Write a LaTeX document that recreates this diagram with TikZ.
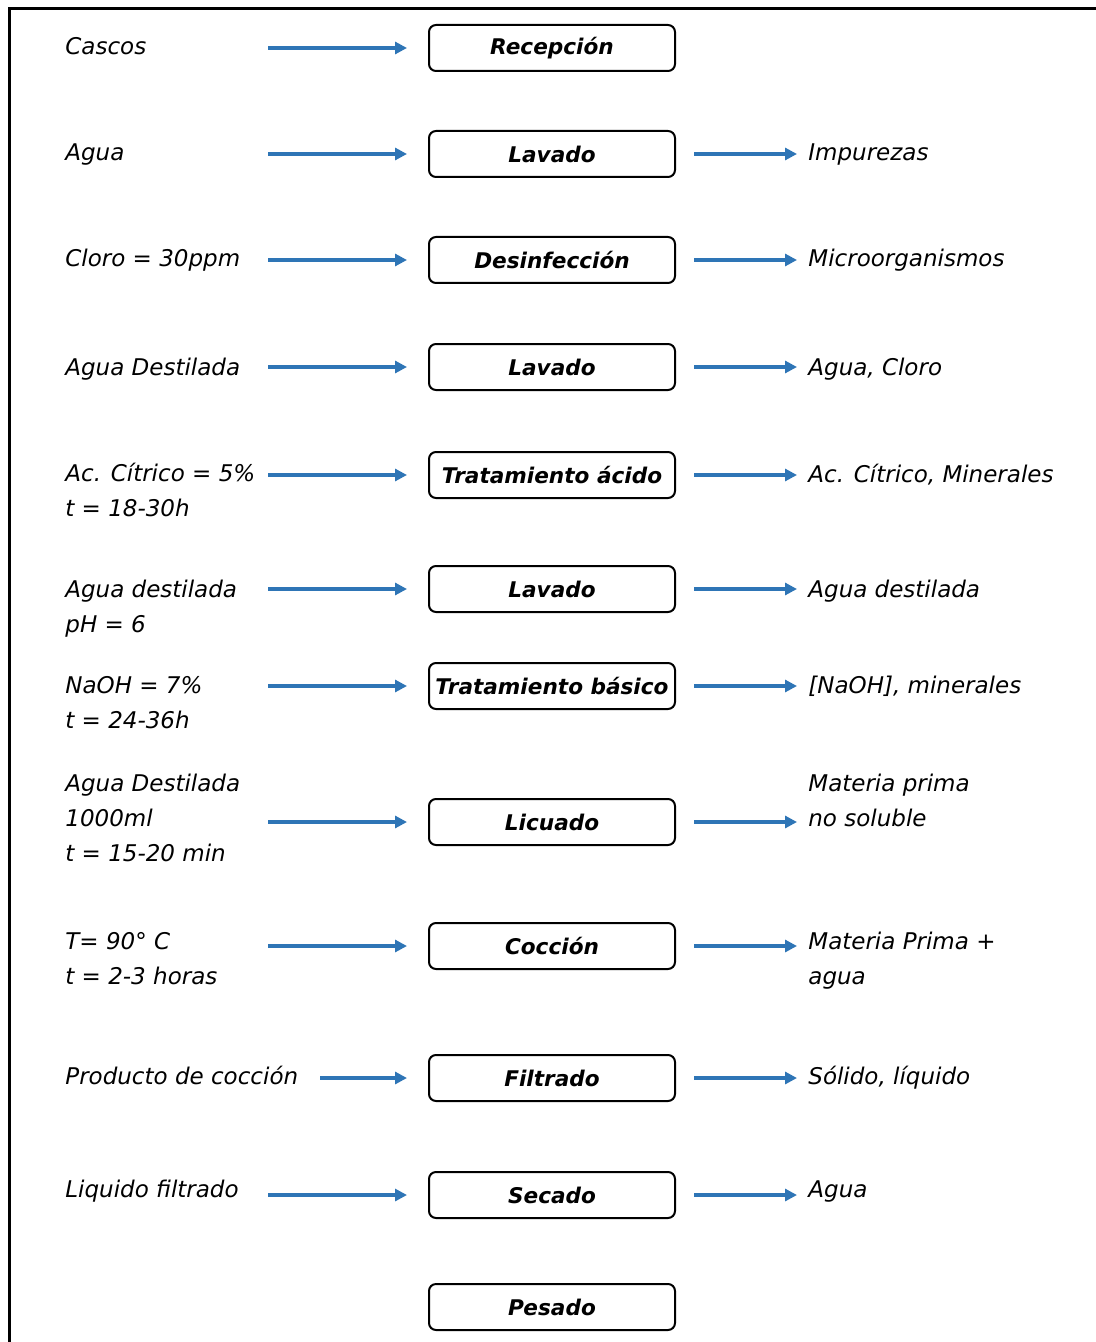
\documentclass[tikz,border=0pt]{standalone}
\usepackage{fontspec}
\setmainfont{DejaVu Sans}
\usetikzlibrary{arrows.meta}
\definecolor{flowblue}{HTML}{2E75B6}
\tikzset{
  proc/.style={draw, line width=1pt, rounded corners=3.5pt, minimum width=123pt,
    minimum height=23pt, inner sep=0pt, font=\bfseries\itshape\fontsize{10.8}{12}\selectfont},
  flow/.style={flowblue, line width=1.8pt, -{Triangle[length=6pt,width=6pt]}},
  lbl/.style={anchor=north west, inner sep=0pt, align=left,
    font=\itshape\fontsize{11.5}{17.5}\selectfont},
}
\begin{document}
\begin{tikzpicture}[x=0.5pt,y=-0.5pt]
  \useasboundingbox (0,0) rectangle (1096,1342);
  % frame
  \draw[line width=1.5pt] (9,1342) -- (9,9) -- (1096,9);

  % process steps
  \foreach \n/\y/\txt in {1/48/Recepción, 2/154/Lavado, 3/260/Desinfección, 4/367/Lavado,
      5/475/Tratamiento ácido, 6/589/Lavado, 7/686/Tratamiento básico, 8/822/Licuado,
      9/946/Cocción, 10/1078/Filtrado, 11/1195/Secado, 12/1307/Pesado}
    \node[proc] (p\n) at (552,\y) {\txt};

  % inputs
  \foreach \n/\y/\txt in {1/47/Cascos, 2/153/Agua, 3/259/Cloro = 30ppm, 4/368/Agua Destilada,
      5/473/Ac. Cítrico = 5\%\\t = 18-30h, 6/590/Agua destilada\\pH = 6,
      7/686/NaOH = 7\%\\t = 24-36h, 8/784/Agua Destilada\\1000ml\\t = 15-20 min,
      9/942/T= 90° C\\t = 2-3 horas, 10/1076/Producto de cocción, 11/1190/Liquido filtrado}
    \node[lbl] (in\n) at (65,\y-10) {\txt};

  % input arrows
  \foreach \n/\x in {1/268, 2/268, 3/268, 4/268, 5/268, 6/268, 7/268, 8/268, 9/268, 10/320, 11/268} {
    \coordinate (s\n) at (\x,0 |- p\n.west);
    \draw[flow, shorten >=10.5pt] (s\n) -- (p\n.west);
  }

  % outputs
  \foreach \n/\y/\txt in {2/153/Impurezas, 3/259/Microorganismos, 4/368/{Agua, Cloro},
      5/474/{Ac. Cítrico, Minerales}, 6/590/Agua destilada, 7/686/{[NaOH], minerales},
      8/784/Materia prima\\no soluble, 9/942/Materia Prima +\\agua,
      10/1076/{Sólido, líquido}, 11/1190/Agua}
    \node[lbl] (out\n) at (808,\y-10) {\txt};

  % output arrows
  \foreach \n in {2,...,11} {
    \coordinate (e\n) at (797,0 |- p\n.east);
    \draw[flow, shorten <=9pt] (p\n.east) -- (e\n);
  }
\end{tikzpicture}
\end{document}
